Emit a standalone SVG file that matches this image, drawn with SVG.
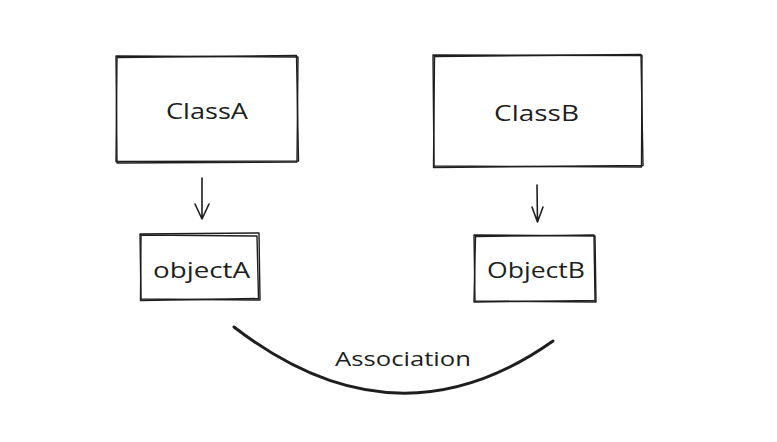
<svg xmlns="http://www.w3.org/2000/svg" width="777" height="442" viewBox="0 0 777 442">
<style>
.box{fill:none;stroke:#1e1e1e;stroke-width:1.4;stroke-linecap:round;stroke-linejoin:round}
.lbl{font-family:"Open Sans","Liberation Sans",sans-serif;fill:#1e1e1e;text-anchor:middle;dominant-baseline:central}
.con{fill:none;stroke:#1e1e1e;stroke-width:1.6;stroke-linecap:round;stroke-linejoin:round}
.assoc{fill:none;stroke:#1e1e1e;stroke-width:3;stroke-linecap:round}
</style>
<rect width="777" height="442" fill="#ffffff"/>
<g id="classA">
<path class="box" d="M116 56 L298 57 L297 162 L117 163 Z"/>
<path class="box" d="M117 57.5 L296.5 55.5 L298.5 161 L116 161.5 Z"/>
<text class="lbl" x="207" y="110" font-size="22" textLength="82" lengthAdjust="spacingAndGlyphs">ClassA</text>
</g>
<g id="classB">
<path class="box" d="M433 55 L642 55.5 L641.5 167 L434 166 Z"/>
<path class="box" d="M434.5 56.5 L641 54.5 L643 165.5 L433.5 167.5 Z"/>
<text class="lbl" x="536.5" y="112" font-size="22" textLength="85" lengthAdjust="spacingAndGlyphs">ClassB</text>
</g>
<g id="objectA">
<path class="box" d="M140 234 L259 233 L260 300 L141 299 Z"/>
<path class="box" d="M141 235 L257 236 L258.5 298.5 L140.5 300.5 Z"/>
<text class="lbl" x="201.5" y="270" font-size="21" textLength="97" lengthAdjust="spacingAndGlyphs">objectA</text>
</g>
<g id="objectB">
<path class="box" d="M474 235 L595 236 L596 302 L475 301 Z"/>
<path class="box" d="M475.5 236.5 L594 235 L595 300.5 L474 302 Z"/>
<text class="lbl" x="536" y="270" font-size="21" textLength="98" lengthAdjust="spacingAndGlyphs">ObjectB</text>
</g>
<g id="connectors">
<path class="con" d="M202 178 L202 219 M195 204 L202 219 L209 204"/>
<path class="con" d="M537 185 L537.5 222 M532 207 L537.5 222 L543 207"/>
<path class="assoc" d="M234 327 Q396 452 553 341"/>
</g>
<g id="association">
<text class="lbl" x="403" y="358" font-size="20" textLength="136" lengthAdjust="spacingAndGlyphs">Association</text>
</g>
</svg>
